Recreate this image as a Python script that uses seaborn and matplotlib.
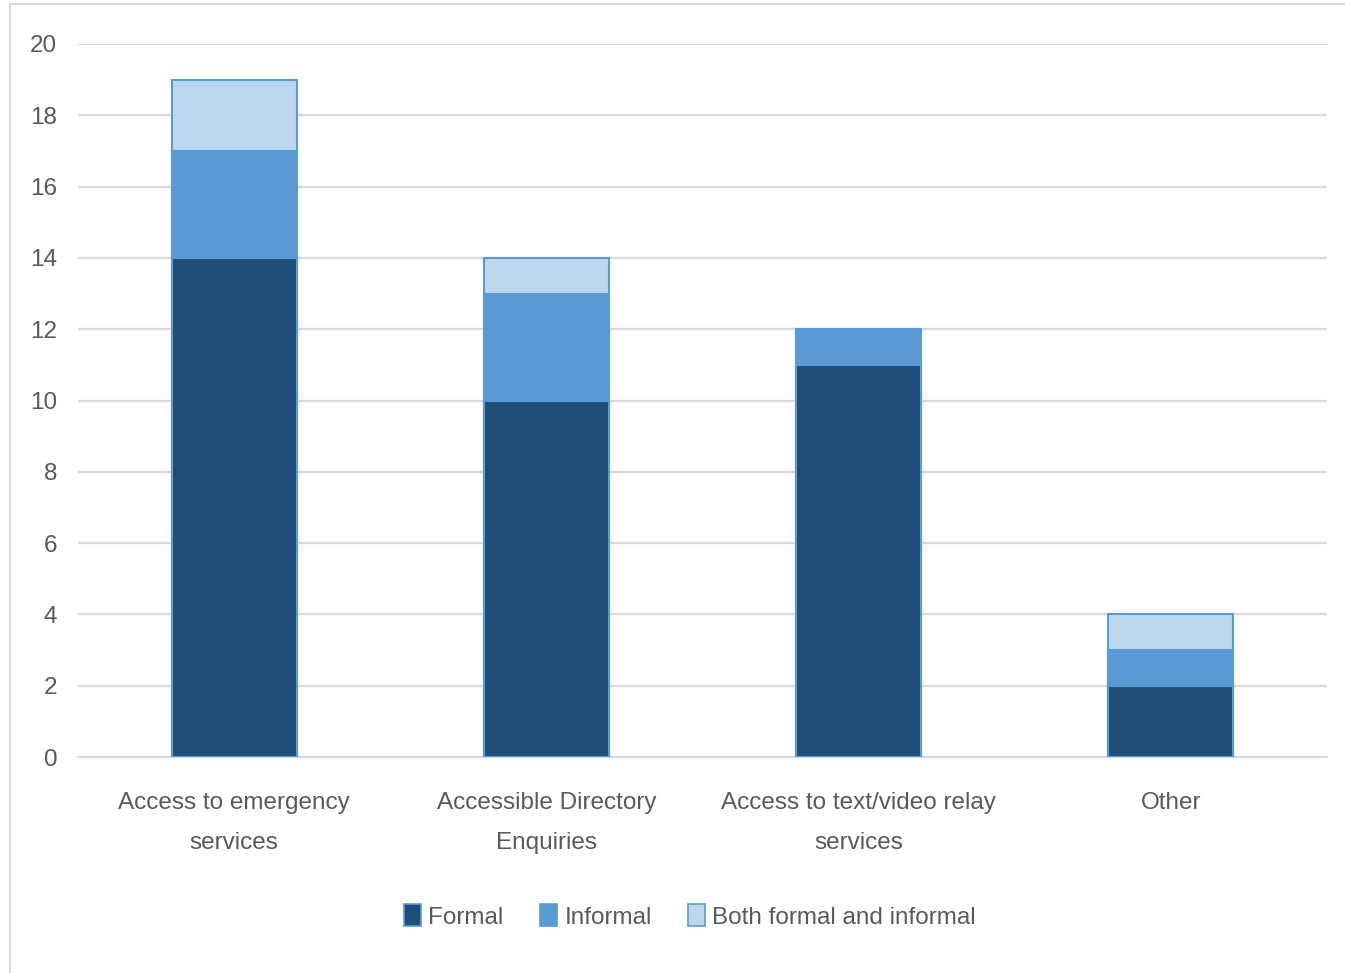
import matplotlib
matplotlib.use("Agg")
import matplotlib.pyplot as plt
import seaborn as sns
import pandas as pd
import numpy as np
from matplotlib.lines import Line2D
from matplotlib.patches import Patch

categories = ["Access to emergency\nservices", "Accessible Directory\nEnquiries",
              "Access to text/video relay\nservices", "Other"]
formal = [14, 10, 11, 2]
informal = [3, 3, 1, 1]
both = [2, 1, 0, 1]
series_names = ["Formal", "Informal", "Both formal and informal"]
colors = ["#1F4E79", "#5B9BD5", "#BDD7EE"]
edge = "#5B9BD5"

sns.set_theme(style="white")
plt.rcParams['font.family'] = ['Liberation Sans Narrow', 'Liberation Sans', 'DejaVu Sans']
text_color = "#595959"

fig = plt.figure(figsize=(13.45, 9.73), dpi=100)
ax = fig.add_axes([78/1345, 1-757/973, (1327-78)/1345, (757-44)/973])

f = np.array(formal); i = np.array(informal); b = np.array(both)
layers = [f + i + b, f + i, f]
layer_colors = [colors[2], colors[1], colors[0]]
for vals, col in zip(layers, layer_colors):
    df = pd.DataFrame({"cat": categories, "val": vals})
    sns.barplot(data=df, x="cat", y="val", color=col, width=0.4,
                edgecolor=edge, linewidth=1.5, ax=ax, saturation=1, zorder=3)

ax.set_ylim(0, 20)
ax.set_xlim(-0.5, 3.5)
ax.set_yticks(range(0, 21, 2))
ax.yaxis.grid(True, color="#D9D9D9", linewidth=1.6, zorder=0)
ax.set_axisbelow(True)
for s in ["top", "right", "left"]:
    ax.spines[s].set_visible(False)
ax.spines["bottom"].set_color("#D9D9D9")
ax.spines["bottom"].set_linewidth(1.6)
ax.set_xlabel("")
ax.set_ylabel("")
ax.tick_params(axis="y", length=0, pad=15, labelsize=17.5, labelcolor=text_color)
ax.tick_params(axis="x", length=0, pad=25, labelsize=17.5, labelcolor=text_color)
for lbl in ax.get_xticklabels():
    lbl.set_linespacing(2.1)

handles = [Patch(facecolor=c, edgecolor=edge, linewidth=1.2) for c in colors]
leg = fig.legend(handles, series_names, loc="center", bbox_to_anchor=(0.513, 0.058),
                 ncol=3, frameon=False, fontsize=17.5, handlelength=0.7, handleheight=1.0,
                 handletextpad=0.3, columnspacing=1.5)
for t in leg.get_texts():
    t.set_color(text_color)

fig.add_artist(Line2D([10/1345, 10/1345], [0, 1-4/973], color="#D9D9D9", linewidth=1.5,
                      transform=fig.transFigure))
fig.add_artist(Line2D([10/1345, 1], [1-4/973, 1-4/973], color="#D9D9D9", linewidth=1.5,
                      transform=fig.transFigure))

fig.savefig("out.png", dpi=100)
